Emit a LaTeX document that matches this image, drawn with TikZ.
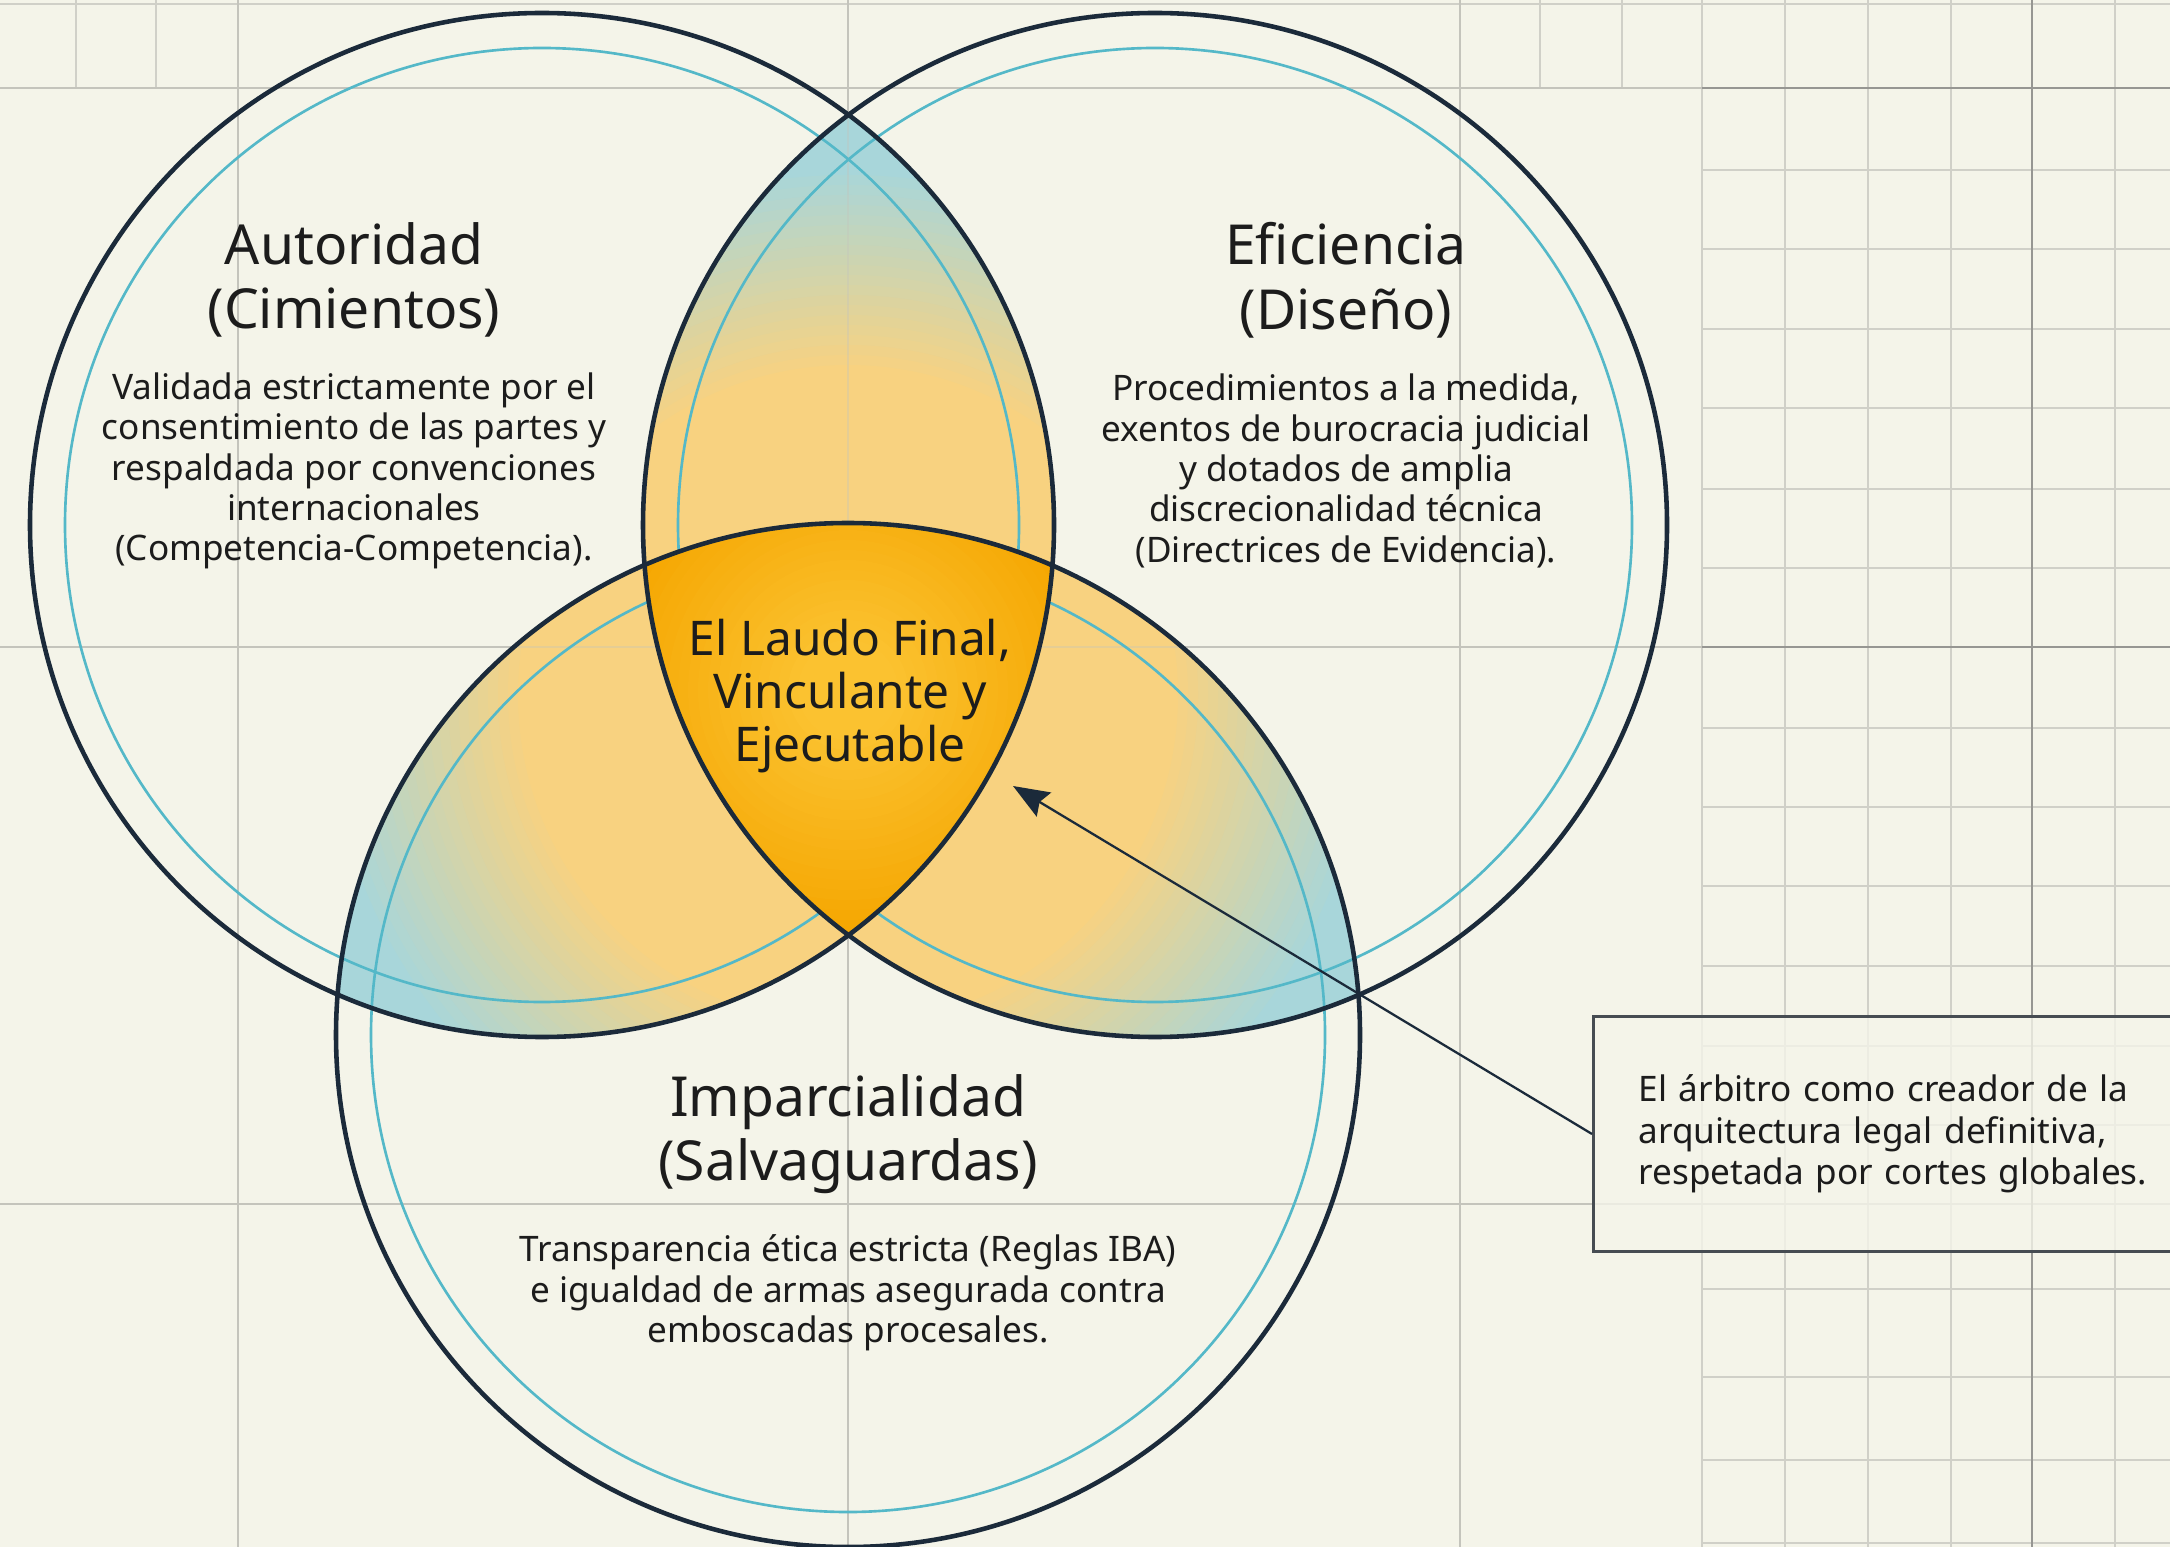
\documentclass[tikz,border=0pt]{standalone}
\usepackage{fontspec}
\setmainfont{Noto Sans}
\usetikzlibrary{arrows.meta, positioning}

\definecolor{paperbg}{RGB}{244, 244, 233}
\definecolor{gridmajor}{RGB}{196, 196, 188}
\definecolor{gridminor}{RGB}{208, 208, 200}
\definecolor{griddark}{RGB}{150, 150, 146}
\definecolor{ringnavy}{RGB}{27, 42, 58}
\definecolor{ringcyan}{RGB}{84, 184, 200}
\definecolor{lensorange}{RGB}{248, 210, 128}
\definecolor{lensblue}{RGB}{168, 214, 218}
\definecolor{laudolight}{RGB}{251, 194, 48}
\definecolor{laudodeep}{RGB}{245, 166, 0}
\definecolor{inkdark}{RGB}{28, 28, 28}
\definecolor{boxedge}{RGB}{70, 76, 82}

\tikzset{
  gridline/.style={draw=gridminor, line width=0.35pt},
  gridbold/.style={draw=gridmajor, line width=0.45pt},
  griddeep/.style={draw=griddark, line width=0.45pt},
  ringouter/.style={draw=ringnavy, line width=1.3pt},
  ringinner/.style={draw=ringcyan, line width=0.75pt},
  headtext/.style={font=\fontsize{15.7}{18.4}\selectfont, text=inkdark, align=center, inner sep=0pt},
  bodytext/.style={font=\fontsize{10}{11.5}\selectfont, text=inkdark, align=center, inner sep=0pt},
  laudotext/.style={font=\fontsize{13.6}{15.2}\selectfont, text=inkdark, align=center, inner sep=0pt},
  notebox/.style={draw=boxedge, line width=0.85pt, fill=paperbg, fill opacity=0.8, text opacity=1,
    text=inkdark, font=\fontsize{10}{11.8}\selectfont, align=left, text width=60mm,
    inner xsep=4.5mm, inner ysep=0pt, minimum height=23.5mm},
  pointer/.style={draw=ringnavy, line width=0.65pt, -{Stealth[length=3.6mm, width=2.8mm, inset=0.5mm]}}
}

\begin{document}
\begin{tikzpicture}[x=0.1mm, y=-0.1mm]
  % paper
  \fill[paperbg] (0,0) rectangle (2170,1547);
  \useasboundingbox (0,0) rectangle (2170,1547);

  % grid
  \draw[gridline] (0,4) -- (2170,4);
  \foreach \gx in {76,156,1540,1622} \draw[gridline] (\gx,0) -- (\gx,88);
  \foreach \gx in {1702,1785,1868,1951,2115} \draw[gridline] (\gx,0) -- (\gx,1547);
  \foreach \gy in {170,249,329,408,489,568,728,807,886,966,1046,1125,1289,1377,1460,1543}
    \draw[gridline] (1702,\gy) -- (2170,\gy);
  \foreach \gx in {238,848,1460} \draw[gridbold] (\gx,0) -- (\gx,1547);
  \foreach \gy in {88,647,1204} \draw[gridbold] (0,\gy) -- (2170,\gy);
  \draw[griddeep] (2032,0) -- (2032,1547);
  \draw[griddeep] (1702,88) -- (2170,88);
  \draw[griddeep] (1702,647) -- (2170,647);

  % circle centres
  \coordinate (cauto) at (542,525);
  \coordinate (cefic) at (1155,525);
  \coordinate (cimpa) at (848,1035);
  \coordinate (cmid) at (848,695);

  % pairwise overlaps: blue at the tips, orange towards the middle
  \foreach \ca/\cb in {cauto/cefic, cauto/cimpa, cefic/cimpa} {
    \begin{scope}
      \clip (\ca) circle (512);
      \clip (\cb) circle (512);
      \foreach \k in {0,...,30} {
        \pgfmathsetmacro\rr{620-\k*10}
        \pgfmathsetmacro\mix{max(0,min(100,(\rr-330)/2))}
        \fill[lensblue!\mix!lensorange] (cmid) circle (\rr);
      }
      \draw[gridbold, draw opacity=0.35] (848,0) -- (848,1547) (0,647) -- (2170,647);
    \end{scope}
  }

  % inner rings
  \draw[ringinner] (cauto) circle (477);
  \draw[ringinner] (cefic) circle (477);
  \draw[ringinner] (cimpa) circle (477);

  % triple overlap
  \begin{scope}
    \clip (cauto) circle (512);
    \clip (cefic) circle (512);
    \clip (cimpa) circle (512);
    \foreach \k in {0,...,24} {
      \pgfmathsetmacro\rr{290-\k*10}
      \pgfmathsetmacro\mix{max(0,min(100,(\rr-50)/2))}
      \fill[laudodeep!\mix!laudolight] (848,690) circle (\rr);
    }
  \end{scope}

  % outer rings
  \draw[ringouter] (cauto) circle (512);
  \draw[ringouter] (cefic) circle (512);
  \draw[ringouter] (cimpa) circle (512);

  % Autoridad
  \node[headtext] (autohead) at (354,280) {Autoridad\\(Cimientos)};
  \node[bodytext] (autobody) at (354,471) {Validada estrictamente por el\\consentimiento de las partes y\\respaldada por convenciones\\internacionales\\(Competencia-Competencia).};

  % Eficiencia
  \node[headtext] (efichead) at (1346,280) {Eficiencia\\(Diseño)};
  \node[bodytext] (eficbody) at (1346,471) {Procedimientos a la medida,\\exentos de burocracia judicial\\y dotados de amplia\\discrecionalidad técnica\\(Directrices de Evidencia).};

  % Imparcialidad
  \node[headtext] (impahead) at (848,1134) {Imparcialidad\\(Salvaguardas)};
  \node[bodytext] (impabody) at (848,1293) {Transparencia ética estricta (Reglas IBA)\\e igualdad de armas asegurada contra\\emboscadas procesales.};

  % centre
  \node[laudotext] (laudo) at (850,696) {El Laudo Final,\\Vinculante y\\Ejecutable};

  % callout
  \node[notebox, anchor=west] (note) at (1592,1134) {El árbitro como creador de la\\arquitectura legal definitiva,\\respetada por cortes globales.};
  \coordinate (laudotip) at (1013,786);
  \draw[pointer] (note.west) -- (laudotip);
\end{tikzpicture}
\end{document}
